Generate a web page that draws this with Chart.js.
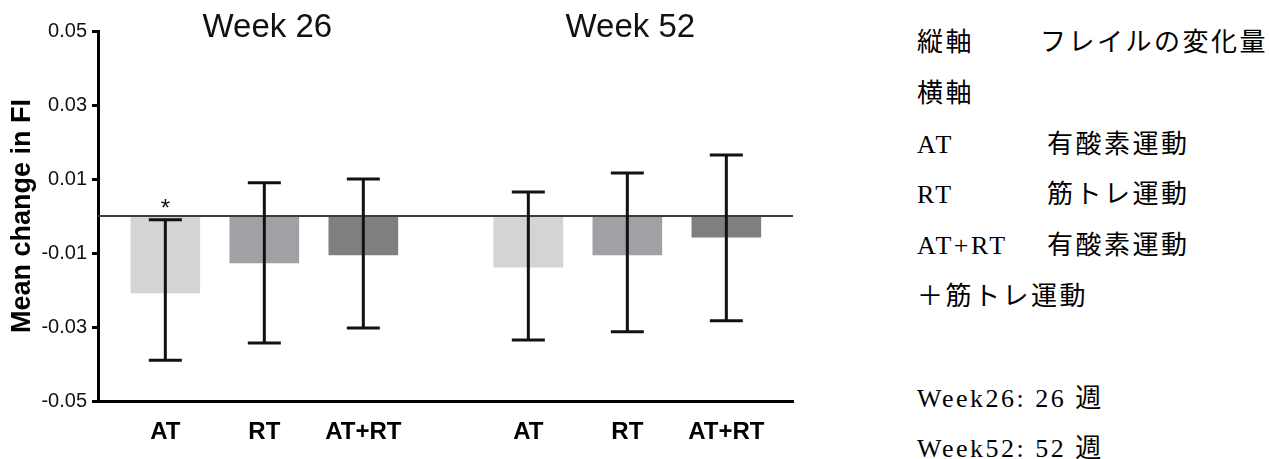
<!DOCTYPE html>
<html lang="ja">
<head>
<meta charset="utf-8">
<title>Mean change in FI</title>
<script src="https://cdn.jsdelivr.net/npm/chart.js@4.4.1/dist/chart.umd.min.js"></script>
<style>
  body { margin: 0; background: #fff; }
  .wrap { position: relative; width: 1269px; height: 459px; overflow: hidden; }
  .chart-box { position: absolute; left: 0; top: 0; width: 880px; height: 459px; }
  .notes {
    position: absolute; left: 917px; top: 15px;
    font-family: "Liberation Serif", "Noto Sans CJK JP", serif;
    font-size: 26px; line-height: 50.8px; letter-spacing: 2.5px;
    color: #000; white-space: nowrap;
  }
  .notes > div { height: 50.8px; }
  .notes .k { display: inline-block; width: 130px; }
  .notes .k.first { width: 123px; }
  .jp { font-family: "Noto Sans CJK JP", sans-serif; }
</style>
</head>
<body>
<div class="wrap">
  <div class="chart-box"><canvas id="myChart"></canvas></div>
  <div class="notes">
    <div><span class="k first jp">縦軸</span><span class="jp">フレイルの変化量</span></div>
    <div><span class="jp">横軸</span></div>
    <div><span class="k">AT</span><span class="jp">有酸素運動</span></div>
    <div><span class="k">RT</span><span class="jp">筋トレ運動</span></div>
    <div><span class="k">AT+RT</span><span class="jp">有酸素運動</span></div>
    <div><span class="jp">＋筋トレ運動</span></div>
    <div>&nbsp;</div>
    <div>Week26: 26 <span class="jp">週</span></div>
    <div>Week52: 52 <span class="jp">週</span></div>
  </div>
</div>
<script>
const categories = ['AT', 'RT', 'AT+RT'];
const groupTitles = ['Week 26', 'Week 52'];

const week26Mean = [-0.0208, -0.0127, -0.0105];
const week26Upper = [-0.001, 0.009, 0.010];
const week26Lower = [-0.039, -0.0343, -0.0303];
const week26Marks = ['*', '', ''];

const week52Mean = [-0.0138, -0.0105, -0.0057];
const week52Upper = [0.0065, 0.0116, 0.0165];
const week52Lower = [-0.0335, -0.0313, -0.0283];
const week52Marks = ['', '', ''];

const yTicks = [-0.05, -0.03, -0.01, 0.01, 0.03, 0.05];
const barColors = ['#d4d4d4', '#a1a1a5', '#7f7f7f'];

const FONT = '"Liberation Sans", Arial, sans-serif';
const groupStep = 11 / 3; // week 52 block sits a bit further than one slot away

function buildPoints() {
  const groups = [
    { mean: week26Mean, upper: week26Upper, lower: week26Lower, marks: week26Marks },
    { mean: week52Mean, upper: week52Upper, lower: week52Lower, marks: week52Marks }
  ];
  const points = [];
  groups.forEach((g, gi) => {
    categories.forEach((cat, ci) => {
      points.push({
        x: 1 + gi * groupStep + ci,
        y: g.mean[ci],
        upper: g.upper[ci],
        lower: g.lower[ci],
        mark: g.marks[ci],
        label: cat,
        color: barColors[ci]
      });
    });
  });
  return points;
}

const points = buildPoints();

// zero line, error bars, asterisk and the two week headings
const errorBars = {
  id: 'errorBars',
  afterDatasetsDraw(chart) {
    const { ctx, chartArea } = chart;
    const x = chart.scales.x;
    const y = chart.scales.y;
    ctx.save();

    const y0 = y.getPixelForValue(0);
    ctx.strokeStyle = '#3c3c3c';
    ctx.lineWidth = 2;
    ctx.beginPath();
    ctx.moveTo(chartArea.left, y0);
    ctx.lineTo(chartArea.right, y0);
    ctx.stroke();

    ctx.strokeStyle = '#111';
    ctx.lineWidth = 3;
    points.forEach((p) => {
      const px = x.getPixelForValue(p.x);
      const top = y.getPixelForValue(p.upper);
      const bottom = y.getPixelForValue(p.lower);
      ctx.beginPath();
      ctx.moveTo(px, top);
      ctx.lineTo(px, bottom);
      ctx.moveTo(px - 16.5, top);
      ctx.lineTo(px + 16.5, top);
      ctx.moveTo(px - 16.5, bottom);
      ctx.lineTo(px + 16.5, bottom);
      ctx.stroke();
      if (p.mark) {
        ctx.fillStyle = '#111';
        ctx.font = '24px ' + FONT;
        ctx.textAlign = 'center';
        ctx.textBaseline = 'alphabetic';
        ctx.fillText(p.mark, px, top - 4);
      }
    });

    ctx.fillStyle = '#111';
    ctx.font = '33px ' + FONT;
    ctx.textAlign = 'center';
    ctx.textBaseline = 'middle';
    groupTitles.forEach((t, gi) => {
      const cx = x.getPixelForValue(1 + gi * groupStep + 1) + 3;
      ctx.fillText(t, cx, 28);
    });
    ctx.restore();
  }
};

function initChart(target) {
  const data = {
    datasets: [{
      data: points,
      backgroundColor: points.map((p) => p.color),
      borderWidth: 0,
      barThickness: 69
    }]
  };

  const config = {
    type: 'bar',
    data: data,
    options: {
      responsive: true,
      maintainAspectRatio: false,
      animation: false,
      layout: { padding: { top: 31, right: 87, left: 0, bottom: 0 } },
      plugins: { legend: { display: false }, tooltip: { enabled: false } },
      scales: {
        x: {
          type: 'linear',
          min: 0.32,
          max: 7.34,
          offset: false,
          grid: { display: false },
          border: { display: true, color: '#000', width: 3 },
          afterBuildTicks: (scale) => { scale.ticks = points.map((p) => ({ value: p.x })); },
          afterFit: (scale) => { scale.height = 58; },
          ticks: {
            autoSkip: false,
            maxRotation: 0,
            padding: 9,
            color: '#000',
            font: { family: FONT, size: 24, weight: 'bold' },
            callback: (v, i) => points[i].label
          }
        },
        y: {
          min: -0.05,
          max: 0.05,
          afterBuildTicks: (scale) => { scale.ticks = yTicks.map((v) => ({ value: v })); },
          afterFit: (scale) => { scale.width = 98; },
          grid: { display: true, drawOnChartArea: false, drawTicks: true, tickLength: 6, color: '#000', lineWidth: 3 },
          border: { display: true, color: '#000', width: 3 },
          ticks: {
            padding: 5,
            color: '#111',
            font: { family: FONT, size: 20 },
            callback: (v) => v.toFixed(2)
          },
          title: {
            display: true,
            text: 'Mean change in FI',
            color: '#000',
            font: { family: FONT, size: 27, weight: 'bold' },
            padding: { top: 6, bottom: 0 }
          }
        }
      }
    },
    plugins: [errorBars]
  };
  return new Chart(target, config);
}

document.addEventListener('DOMContentLoaded', () => initChart(document.querySelector('#myChart')));
</script>
</body>
</html>
